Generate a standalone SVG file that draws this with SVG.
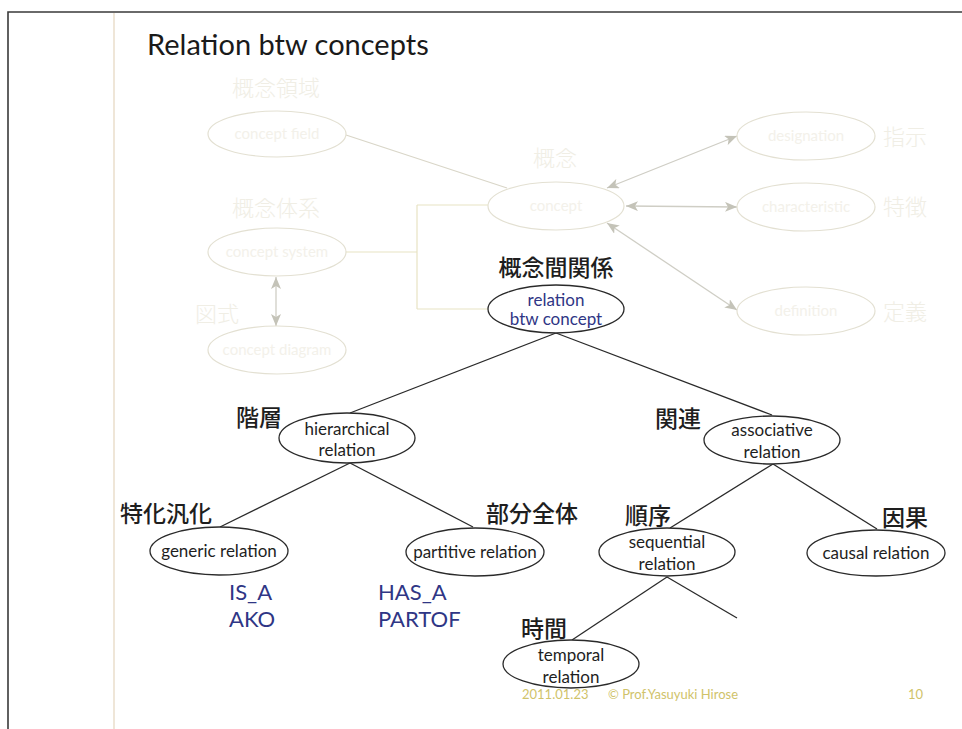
<svg xmlns="http://www.w3.org/2000/svg" width="962" height="729" viewBox="0 0 962 729">
<defs>
<style>
.frame{fill:none;stroke:#3a3a3a;stroke-width:1.6}
.guide{stroke:#efe6d8;stroke-width:2;fill:none}
.fnode ellipse{fill:none;stroke:#e3e0d2;stroke-width:1.2}
.ftext{font-family:Lato,"Liberation Sans",sans-serif;fill:#f3f1ea;font-size:15px;text-anchor:middle}
.fjp{font-family:"Noto Sans CJK JP",sans-serif;fill:#f0eee5;font-size:22px;font-weight:300;text-anchor:middle}
.node ellipse{fill:#fff;stroke:#2a2a2a;stroke-width:1.3}
.lbl{font-family:Lato,"Liberation Sans",sans-serif;font-size:17px;fill:#1e1e1e;text-anchor:middle}
.jp{font-family:"Noto Sans CJK JP",sans-serif;font-size:23px;fill:#1e1e1e;font-weight:500}
.navy{fill:#2f3685}
.code{font-family:Lato,"Liberation Sans",sans-serif;font-size:22px;fill:#2f3685}
.edge{stroke:#2a2a2a;stroke-width:1.3;fill:none}
.fedge{stroke:#d9d6c8;stroke-width:1.2;fill:none}
.farrow{stroke:#cfcec5;stroke-width:1.3;fill:none;marker-start:url(#ah);marker-end:url(#ah)}
.fbr{stroke:#e8e3c4;stroke-width:1.2;fill:none}
.foot{font-family:Lato,"Liberation Sans",sans-serif;font-size:13px;fill:#d0c36a}
</style>
<marker id="ah" viewBox="0 0 12 10" refX="12" refY="5" markerWidth="12" markerHeight="10" orient="auto-start-reverse" markerUnits="userSpaceOnUse"><path d="M0,0 L12,5 L0,10 L3,5 z" fill="#c4c3b8"/></marker>
</defs>
<rect x="0" y="0" width="962" height="729" fill="#fff"/>
<path class="frame" d="M8,729 V12 H962"/>
<line class="guide" x1="114" y1="13" x2="114" y2="729"/>
<text x="147" y="55" font-family="Lato,'Liberation Sans',sans-serif" font-size="29" fill="#1a1a1a">Relation btw concepts</text>

<g id="connectors">
<path class="fedge" d="M346,135 L507,188"/>
<path class="fbr" d="M346,252 H417 M417,205 V309 M417,205 H488 M417,309 H488"/>
<path class="farrow" d="M276,277 L276,326"/>
<path class="farrow" d="M607,188 L737,136"/>
<path class="farrow" d="M626,206 L737,207"/>
<path class="farrow" d="M607,223 L737,310"/>
<path class="edge" d="M556,333 L350,413"/>
<path class="edge" d="M556,333 L772,415"/>
<path class="edge" d="M350,463 L220,527"/>
<path class="edge" d="M350,463 L473,527"/>
<path class="edge" d="M773,464 L670,528"/>
<path class="edge" d="M773,464 L877,529"/>
<path class="edge" d="M667,577 L572,640"/>
<path class="edge" d="M667,577 L737,618"/>
</g>

<g id="concept-field" class="fnode">
<text class="fjp" x="276" y="96">概念領域</text>
<ellipse cx="277" cy="134" rx="69" ry="23"/>
<text class="ftext" x="277" y="139">concept field</text>
</g>
<g id="concept-system" class="fnode">
<text class="fjp" x="276" y="216">概念体系</text>
<ellipse cx="277" cy="252" rx="69" ry="24"/>
<text class="ftext" x="277" y="257">concept system</text>
</g>
<g id="concept-diagram" class="fnode">
<text class="fjp" x="217" y="322">図式</text>
<ellipse cx="277" cy="350" rx="69" ry="24"/>
<text class="ftext" x="277" y="355">concept diagram</text>
</g>
<g id="concept" class="fnode">
<text class="fjp" x="555" y="166">概念</text>
<ellipse cx="556" cy="206" rx="68" ry="24"/>
<text class="ftext" x="556" y="211">concept</text>
</g>
<g id="designation" class="fnode">
<ellipse cx="806" cy="136" rx="69" ry="24"/>
<text class="ftext" x="806" y="141">designation</text>
<text class="fjp" x="905" y="145">指示</text>
</g>
<g id="characteristic" class="fnode">
<ellipse cx="806" cy="207" rx="69" ry="24"/>
<text class="ftext" x="806" y="212">characteristic</text>
<text class="fjp" x="905" y="215">特徴</text>
</g>
<g id="definition" class="fnode">
<ellipse cx="806" cy="311" rx="69" ry="24"/>
<text class="ftext" x="806" y="316">definition</text>
<text class="fjp" x="905" y="320">定義</text>
</g>

<g id="relation-btw-concept" class="node">
<text class="jp" x="556" y="276" text-anchor="middle">概念間関係</text>
<ellipse cx="556" cy="309" rx="68" ry="24"/>
<text class="lbl navy" x="556" y="306">relation</text>
<text class="lbl navy" x="556" y="325">btw concept</text>
</g>
<g id="hierarchical-relation" class="node">
<text class="jp" x="236" y="426">階層</text>
<ellipse cx="347" cy="438" rx="68" ry="25"/>
<text class="lbl" x="347" y="435">hierarchical</text>
<text class="lbl" x="347" y="456">relation</text>
</g>
<g id="associative-relation" class="node">
<text class="jp" x="655" y="427">関連</text>
<ellipse cx="772" cy="440" rx="68" ry="24"/>
<text class="lbl" x="772" y="436">associative</text>
<text class="lbl" x="772" y="458">relation</text>
</g>
<g id="generic-relation" class="node">
<text class="jp" x="120" y="522">特化汎化</text>
<ellipse cx="219" cy="551" rx="69" ry="24"/>
<text class="lbl" x="219" y="557">generic relation</text>
<text class="code" x="229" y="600">IS_A</text>
<text class="code" x="229" y="627">AKO</text>
</g>
<g id="partitive-relation" class="node">
<text class="jp" x="486" y="522">部分全体</text>
<ellipse cx="475" cy="552" rx="69" ry="24"/>
<text class="lbl" x="475" y="558">partitive relation</text>
<text class="code" x="378" y="600">HAS_A</text>
<text class="code" x="378" y="627">PARTOF</text>
</g>
<g id="sequential-relation" class="node">
<text class="jp" x="625" y="524">順序</text>
<ellipse cx="667" cy="552" rx="68" ry="24"/>
<text class="lbl" x="667" y="548">sequential</text>
<text class="lbl" x="667" y="570">relation</text>
</g>
<g id="causal-relation" class="node">
<text class="jp" x="882" y="526">因果</text>
<ellipse cx="876" cy="553" rx="69" ry="23"/>
<text class="lbl" x="876" y="559">causal relation</text>
</g>
<g id="temporal-relation" class="node">
<text class="jp" x="521" y="637">時間</text>
<ellipse cx="571" cy="664" rx="68" ry="24"/>
<text class="lbl" x="571" y="661">temporal</text>
<text class="lbl" x="571" y="683">relation</text>
</g>

<g id="footer">
<text class="foot" x="522" y="699">2011.01.23</text>
<text class="foot" x="608" y="699">© Prof.Yasuyuki Hirose</text>
<text class="foot" x="908" y="699">10</text>
</g>
</svg>
